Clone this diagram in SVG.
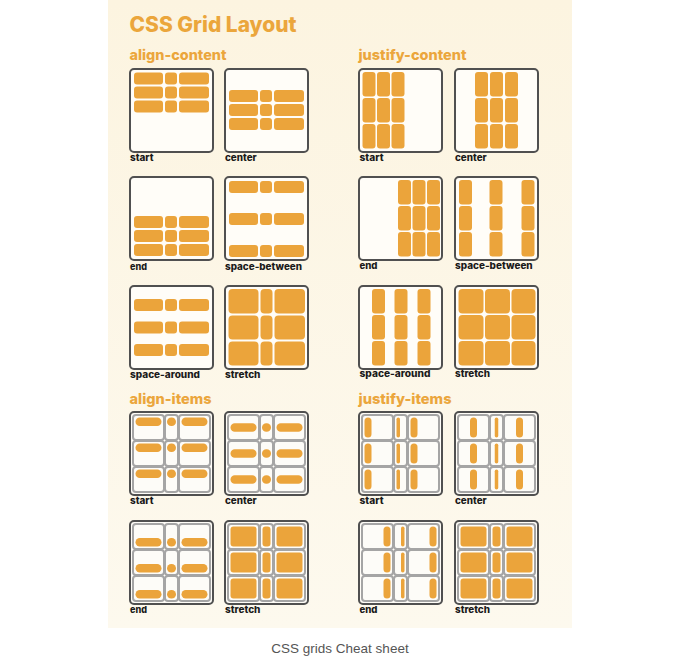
<svg xmlns="http://www.w3.org/2000/svg" xmlns:xlink="http://www.w3.org/1999/xlink" width="680" height="658" viewBox="0 0 680 658">
<style>
.b{fill:#fffdf8;stroke:#505050;stroke-width:2}
.i{fill:#eba43b}
.c{fill:#fdfcf8;stroke:#a5a5a5;stroke-width:2}
.t{font-family:Inter,"Noto Sans","DejaVu Sans",sans-serif;font-weight:800;fill:#eba63c}
.l{font-family:Inter,"Noto Sans","DejaVu Sans",sans-serif;font-weight:800;font-size:9.5px;fill:#1a1a1a}
.cap{font-family:"Liberation Sans",Arial,sans-serif;font-size:13.5px;fill:#555}
</style>
<defs>
<linearGradient id="pg" x1="0" y1="0" x2="0" y2="1">
<stop offset="0" stop-color="#fcf4e0"/>
<stop offset="1" stop-color="#fdf9ee"/>
</linearGradient>
<rect id="box" width="83" height="83" rx="4" class="b"/>
<g id="acrow" class="i">
<rect x="4" width="29" height="12" rx="3"/>
<rect x="35" width="12" height="12" rx="3"/>
<rect x="49" width="30" height="12" rx="3"/>
</g>
<g id="jccol" class="i">
<rect width="13" height="24.5" rx="3"/>
<rect y="26" width="13" height="24.5" rx="3"/>
<rect y="52" width="13" height="24.5" rx="3"/>
</g>
<g id="cells">
<rect class="c" x="3" y="3" width="31" height="25" rx="3"/>
<rect class="c" x="35" y="3" width="13" height="25" rx="3"/>
<rect class="c" x="49" y="3" width="31" height="25" rx="3"/>
<rect class="c" x="3" y="29" width="31" height="25" rx="3"/>
<rect class="c" x="35" y="29" width="13" height="25" rx="3"/>
<rect class="c" x="49" y="29" width="31" height="25" rx="3"/>
<rect class="c" x="3" y="55" width="31" height="25" rx="3"/>
<rect class="c" x="35" y="55" width="13" height="25" rx="3"/>
<rect class="c" x="49" y="55" width="31" height="25" rx="3"/>
</g>
<g id="airow" class="i">
<rect x="5.5" width="26" height="8.5" rx="4.25"/>
<rect x="37" width="9" height="8.5" rx="4.25"/>
<rect x="51.5" width="26" height="8.5" rx="4.25"/>
</g>
<g id="jibar" class="i">
<rect width="7" height="20" rx="3.5"/>
<rect y="26" width="7" height="20" rx="3.5"/>
<rect y="52" width="7" height="20" rx="3.5"/>
</g>
<g id="jibar2" class="i">
<rect width="3.5" height="20" rx="1.75"/>
<rect y="26" width="3.5" height="20" rx="1.75"/>
<rect y="52" width="3.5" height="20" rx="1.75"/>
</g>
<g id="stretch9" class="i">
<rect x="5.5" y="5.5" width="26" height="20" rx="3"/>
<rect x="37.5" y="5.5" width="8" height="20" rx="3"/>
<rect x="51.5" y="5.5" width="26" height="20" rx="3"/>
<rect x="5.5" y="31.5" width="26" height="20" rx="3"/>
<rect x="37.5" y="31.5" width="8" height="20" rx="3"/>
<rect x="51.5" y="31.5" width="26" height="20" rx="3"/>
<rect x="5.5" y="57.5" width="26" height="20" rx="3"/>
<rect x="37.5" y="57.5" width="8" height="20" rx="3"/>
<rect x="51.5" y="57.5" width="26" height="20" rx="3"/>
</g>
</defs>

<rect x="108" y="0" width="464" height="628" fill="url(#pg)"/>

<g id="headings">
<text class="t" x="129.5" y="31.5" font-size="21" textLength="167" lengthAdjust="spacingAndGlyphs">CSS Grid Layout</text>
<text class="t" x="129.5" y="60" font-size="14.5" textLength="97" lengthAdjust="spacingAndGlyphs">align-content</text>
<text class="t" x="358.5" y="60" font-size="14.5" textLength="108" lengthAdjust="spacingAndGlyphs">justify-content</text>
<text class="t" x="129.5" y="404" font-size="14.5" textLength="82" lengthAdjust="spacingAndGlyphs">align-items</text>
<text class="t" x="358.5" y="404" font-size="14.5" textLength="93" lengthAdjust="spacingAndGlyphs">justify-items</text>
</g>

<!-- align-content -->
<g id="ac-start">
<use href="#box" x="130" y="69"/>
<use href="#acrow" x="130" y="72.5"/><use href="#acrow" x="130" y="86.5"/><use href="#acrow" x="130" y="100.5"/>
<text class="l" x="130" y="161" textLength="23.5" lengthAdjust="spacingAndGlyphs">start</text>
</g>
<g id="ac-center">
<use href="#box" x="225" y="69"/>
<use href="#acrow" x="225" y="90"/><use href="#acrow" x="225" y="104"/><use href="#acrow" x="225" y="118"/>
<text class="l" x="225" y="161" textLength="31.7" lengthAdjust="spacingAndGlyphs">center</text>
</g>
<g id="ac-end">
<use href="#box" x="130" y="177"/>
<use href="#acrow" x="130" y="216"/><use href="#acrow" x="130" y="230"/><use href="#acrow" x="130" y="244"/>
<text class="l" x="130" y="269.5" textLength="17" lengthAdjust="spacingAndGlyphs">end</text>
</g>
<g id="ac-space-between">
<use href="#box" x="225" y="177"/>
<use href="#acrow" x="225" y="181"/><use href="#acrow" x="225" y="213"/><use href="#acrow" x="225" y="245"/>
<text class="l" x="225" y="269.5" textLength="77" lengthAdjust="spacingAndGlyphs">space-between</text>
</g>
<g id="ac-space-around">
<use href="#box" x="130" y="286"/>
<use href="#acrow" x="130" y="299"/><use href="#acrow" x="130" y="321.5"/><use href="#acrow" x="130" y="344"/>
<text class="l" x="130" y="377.5" textLength="70" lengthAdjust="spacingAndGlyphs">space-around</text>
</g>
<g id="ac-stretch">
<use href="#box" x="225" y="286"/>
<g class="i">
<rect x="228.5" y="289" width="30" height="24.5" rx="4"/><rect x="260.5" y="289" width="12" height="24.5" rx="4"/><rect x="274.5" y="289" width="30.5" height="24.5" rx="4"/>
<rect x="228.5" y="315.5" width="30" height="24" rx="4"/><rect x="260.5" y="315.5" width="12" height="24" rx="4"/><rect x="274.5" y="315.5" width="30.5" height="24" rx="4"/>
<rect x="228.5" y="341.5" width="30" height="24" rx="4"/><rect x="260.5" y="341.5" width="12" height="24" rx="4"/><rect x="274.5" y="341.5" width="30.5" height="24" rx="4"/>
</g>
<text class="l" x="225" y="377.5" textLength="35.4" lengthAdjust="spacingAndGlyphs">stretch</text>
</g>

<!-- justify-content -->
<g id="jc-start">
<use href="#box" x="359" y="69"/>
<use href="#jccol" x="362.5" y="72"/><use href="#jccol" x="377" y="72"/><use href="#jccol" x="391.5" y="72"/>
<text class="l" x="359.5" y="160.5" textLength="24" lengthAdjust="spacingAndGlyphs">start</text>
</g>
<g id="jc-center">
<use href="#box" x="455" y="69"/>
<use href="#jccol" x="475" y="72"/><use href="#jccol" x="490" y="72"/><use href="#jccol" x="505" y="72"/>
<text class="l" x="455" y="160.5" textLength="31.7" lengthAdjust="spacingAndGlyphs">center</text>
</g>
<g id="jc-end">
<use href="#box" x="359" y="177"/>
<use href="#jccol" x="398" y="180"/><use href="#jccol" x="412.5" y="180"/><use href="#jccol" x="427" y="180"/>
<text class="l" x="359.5" y="269" textLength="18" lengthAdjust="spacingAndGlyphs">end</text>
</g>
<g id="jc-space-between">
<use href="#box" x="455" y="177"/>
<use href="#jccol" x="459" y="180"/><use href="#jccol" x="489.5" y="180"/><use href="#jccol" x="521.5" y="180"/>
<text class="l" x="455" y="269" textLength="77.7" lengthAdjust="spacingAndGlyphs">space-between</text>
</g>
<g id="jc-space-around">
<use href="#box" x="359" y="286"/>
<use href="#jccol" x="372" y="289"/><use href="#jccol" x="394.5" y="289"/><use href="#jccol" x="417.5" y="289"/>
<text class="l" x="359.5" y="377" textLength="71" lengthAdjust="spacingAndGlyphs">space-around</text>
</g>
<g id="jc-stretch">
<use href="#box" x="455" y="286"/>
<g class="i">
<rect x="458.5" y="289" width="25" height="24.5" rx="4"/><rect x="485" y="289" width="25" height="24.5" rx="4"/><rect x="511.5" y="289" width="24" height="24.5" rx="4"/>
<rect x="458.5" y="315" width="25" height="24.5" rx="4"/><rect x="485" y="315" width="25" height="24.5" rx="4"/><rect x="511.5" y="315" width="24" height="24.5" rx="4"/>
<rect x="458.5" y="341" width="25" height="24.5" rx="4"/><rect x="485" y="341" width="25" height="24.5" rx="4"/><rect x="511.5" y="341" width="24" height="24.5" rx="4"/>
</g>
<text class="l" x="455" y="377" textLength="35" lengthAdjust="spacingAndGlyphs">stretch</text>
</g>

<!-- align-items -->
<g id="ai-start">
<use href="#box" x="130" y="412"/><use href="#cells" x="130" y="412"/>
<use href="#airow" x="130" y="417.5"/><use href="#airow" x="130" y="443.5"/><use href="#airow" x="130" y="469.5"/>
<text class="l" x="130" y="504" textLength="23.5" lengthAdjust="spacingAndGlyphs">start</text>
</g>
<g id="ai-center">
<use href="#box" x="225" y="412"/><use href="#cells" x="225" y="412"/>
<use href="#airow" x="225" y="423.3"/><use href="#airow" x="225" y="449.3"/><use href="#airow" x="225" y="475.3"/>
<text class="l" x="225" y="504" textLength="31.7" lengthAdjust="spacingAndGlyphs">center</text>
</g>
<g id="ai-end">
<use href="#box" x="130" y="521"/><use href="#cells" x="130" y="521"/>
<use href="#airow" x="130" y="538"/><use href="#airow" x="130" y="564"/><use href="#airow" x="130" y="590"/>
<text class="l" x="130" y="613" textLength="17" lengthAdjust="spacingAndGlyphs">end</text>
</g>
<g id="ai-stretch">
<use href="#box" x="225" y="521"/><use href="#cells" x="225" y="521"/>
<use href="#stretch9" x="225" y="521"/>
<text class="l" x="225" y="613" textLength="35.4" lengthAdjust="spacingAndGlyphs">stretch</text>
</g>

<!-- justify-items -->
<g id="ji-start">
<use href="#box" x="359" y="412"/><use href="#cells" x="359" y="412"/>
<use href="#jibar" x="364.5" y="417.5"/><use href="#jibar2" x="396.5" y="417.5"/><use href="#jibar" x="410.5" y="417.5"/>
<text class="l" x="359.5" y="504" textLength="24" lengthAdjust="spacingAndGlyphs">start</text>
</g>
<g id="ji-center">
<use href="#box" x="455" y="412"/><use href="#cells" x="455" y="412"/>
<use href="#jibar" x="470" y="417.5"/><use href="#jibar2" x="494.75" y="417.5"/><use href="#jibar" x="516" y="417.5"/>
<text class="l" x="455" y="504" textLength="31.7" lengthAdjust="spacingAndGlyphs">center</text>
</g>
<g id="ji-end">
<use href="#box" x="359" y="521"/><use href="#cells" x="359" y="521"/>
<use href="#jibar" x="383.5" y="526.5"/><use href="#jibar2" x="401" y="526.5"/><use href="#jibar" x="429.5" y="526.5"/>
<text class="l" x="359.5" y="612.5" textLength="18" lengthAdjust="spacingAndGlyphs">end</text>
</g>
<g id="ji-stretch">
<use href="#box" x="455" y="521"/><use href="#cells" x="455" y="521"/>
<use href="#stretch9" x="455" y="521"/>
<text class="l" x="455" y="612.5" textLength="35" lengthAdjust="spacingAndGlyphs">stretch</text>
</g>

<text class="cap" x="340" y="653" text-anchor="middle">CSS grids Cheat sheet</text>
</svg>
